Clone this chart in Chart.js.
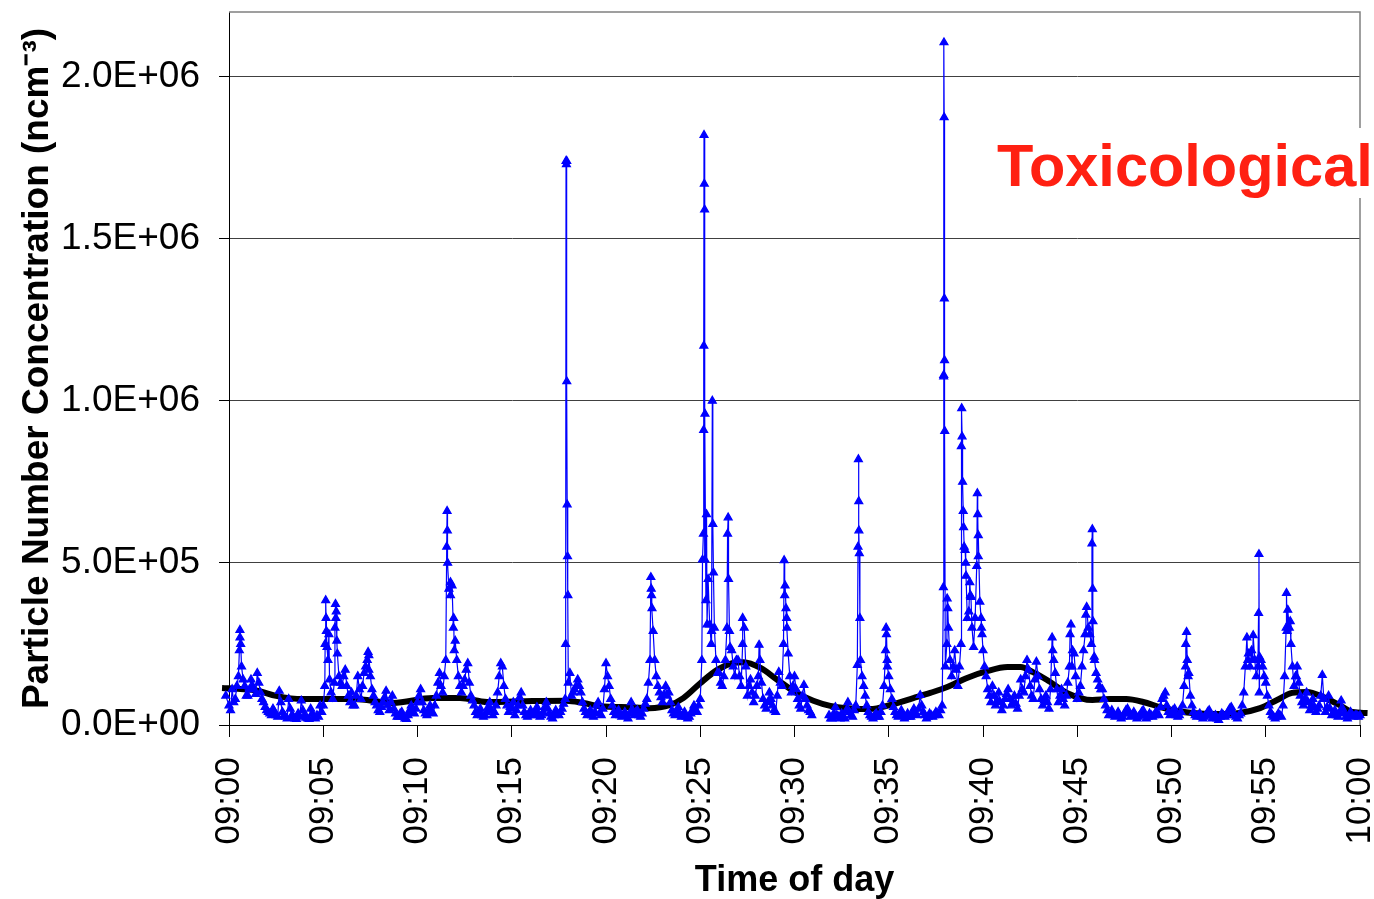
<!DOCTYPE html>
<html>
<head>
<meta charset="utf-8">
<script src="https://cdn.jsdelivr.net/npm/chart.js@4.4.0/dist/chart.umd.min.js"></script>
<style>
html, body { margin: 0; padding: 0; background: #fff; }
</style>
</head>
<body>
<canvas id="pnc" width="1374" height="899"></canvas>
<script>
// particle number concentration 09:00-10:00, values in thousands per cm3
// one reading every 5 s, one array per 5 minute block
let base0900 = [60,45,110,70,80,120,150,270,180,140, 120,90,90,110,140,120,110,95,160,130, 100,80,70,55,45,40,35,30,50,40, 30,25,105,70,40,30,25,20,80,50, 30,25,20,18,35,25,75,45,30,22, 20,18,50,35,25,20,30,25,60,40]
let base0905 = [60,120,290,200,140,100,80,130,330,220, 150,130,120,150,170,120,90,70,100,60, 60,90,150,110,80,120,160,180,200,170, 150,110,90,70,60,45,40,55,70,85, 105,60,45,70,90,50,35,25,25,35, 40,25,20,18,30,45,60,40,35,50]
let base0910 = [70,90,110,70,45,35,30,45,60,40, 35,60,90,130,160,120,100,150,200,600, 420,400,430,330,260,200,150,120,100,120, 140,170,190,130,90,75,60,40,30,40, 50,30,25,30,40,55,70,45,30,40, 60,100,150,190,180,120,80,60,40,55]
let base0915 = [50,70,30,45,60,85,100,60,40,30, 25,35,45,30,30,40,55,35,25,30, 40,55,70,50,35,25,20,30,45,35, 30,40,50,65,80,1740,130,160,90,100, 110,120,140,120,100,70,50,40,30,35, 45,30,25,40,60,70,35,30,50,110]
let base0920 = [190,150,120,80,60,40,30,35,45,30, 25,30,40,30,20,35,70,45,30,40, 45,30,25,35,50,65,80,130,200,400, 290,200,150,120,100,85,70,95,120,90, 100,70,45,35,30,40,55,35,25,30, 40,25,20,25,35,45,60,45,40,60]
let base0925 = [80,200,590,510,650,450,310,250,620,300, 200,160,160,130,120,150,200,300,450,240, 230,180,150,200,200,150,120,250,300,180, 90,120,140,100,70,90,120,150,200,130, 80,60,50,70,100,80,60,45,40,90, 163,130,120,250,430,330,220,150,100,120]
let base0930 = [150,110,80,60,50,90,123,80,60,45, 40,30,null,null,null,null,null,null,null,null, null,null,30,20,20,35,55,30,25,20, 35,25,20,45,70,40,30,25,45,60, 185,600,200,150,120,90,60,40,30,25, 20,30,35,25,25,40,60,120,230,200]
let base0935 = [150,110,80,55,40,30,25,35,45,30, 20,25,35,25,25,35,50,35,30,50, 92,60,40,30,20,25,35,30,25,30, 40,35,30,45,60,1080,180,250,300,200, 150,180,230,170,120,180,250,750,550,500, 330,350,400,300,240,330,490,520,380,300]
let base0940 = [230,180,150,110,90,70,120,90,60,75, 100,70,45,60,80,95,110,80,60,70, 90,65,50,90,140,110,100,150,200,170, 120,90,80,140,195,150,110,80,60,75, 90,70,50,110,270,200,160,110,70,90, 110,80,60,90,130,180,310,230,220,150]
let base0945 = [80,100,120,180,230,280,364,300,280,250, 320,200,160,140,120,110,110,80,60,45, 30,35,45,30,25,30,40,30,20,25, 35,45,50,35,25,30,40,30,20,25, 30,40,45,30,20,25,35,30,25,30, 40,35,30,55,80,90,100,60,40,30]
let base0950 = [35,45,50,30,25,30,40,60,120,180, 200,160,90,60,40,30,25,30,35,25, 20,25,30,40,45,30,20,25,30,20, 15,25,35,30,25,30,40,50,55,40, 30,25,20,30,35,60,100,180,270,220, 180,230,277,200,150,180,210,200,180,150]
let base0955 = [130,90,60,40,30,25,20,25,35,30, 25,60,150,300,355,300,250,180,120,150, 180,130,90,70,60,80,100,70,45,60, 80,55,40,50,60,90,154,80,40,55, 90,50,30,35,45,30,25,40,75,50, 35,25,20,30,40,30,25,30,30,25]

// short bursts between the 5 s readings: [minutes after 09:00, thousands]
let spikes = [
  [-0.33,50],[-0.17,90],[0.55,230],[0.58,293],[0.62,250],
  [5.1,250],[5.13,385],[5.15,330],[5.2,240],[5.3,280],[5.62,300],[5.65,373],[5.69,350],[5.72,260],[7.38,225],[7.42,215],
  [11.55,550],[11.57,660],[11.6,500],[11.75,440],[11.9,300],[11.95,230],
  [17.86,250],[17.88,1740],[17.9,1730],[17.92,1060],[17.94,680],[17.96,520],[17.98,400],
  [22.38,456],[22.4,420],[22.44,360],
  [25.12,510],[25.18,910],[25.19,1170],[25.2,1820],[25.215,1670],[25.23,1590],[25.25,960],[25.3,385],[25.36,310],
  [25.6,290],[25.64,1000],[25.7,470],[26.45,590],[26.48,640],[26.55,290],[27.25,330],[28.12,247],
  [29.45,508],[29.48,400],[29.55,360],[29.6,300],
  [33.37,550],[33.39,820],[33.41,690],[33.44,530],[33.47,330],[34.86,300],[34.88,280],[34.93,180],
  [37.9,425],[37.915,1075],[37.93,2106],[37.94,1875],[37.95,1316],[37.96,1125],[37.97,907],[38.1,390],[38.13,360],
  [38.85,860],[38.87,977],[38.89,890],[38.95,660],[38.97,610],[39.05,540],[39.1,460],[39.3,440],[39.36,395],
  [39.7,715],[39.72,650],[39.75,585],[39.9,330],[39.95,280],
  [43.7,230],[44.62,280],[44.72,180],
  [45.46,340],[45.78,560],[45.8,604],[45.82,420],[45.9,210],
  [50.76,250],[50.8,287],[50.88,150],[54.05,200],[54.3,200],[54.62,345],[54.64,527],[54.655,100],
  [56.1,407],[56.13,290],[56.3,320],[56.62,150],[60.0,30]
]

// smoothed trend (black line)
let trendMinutes = [-0.37,0.6,1.5,2.5,3.9,6.6,8.7,10.8,12.25,13.7,16.1,17.9,18.8,19.7,21.4,22.3,23.4,24.1,25.0,25.9,26.7,27.3,28.2,29.1,30.1,31.0,31.9,32.8,34.0,35.1,36.3,37.2,38.1,39.15,40.2,41.3,42.0,42.65,43.4,44.45,45.8,46.7,47.6,48.5,49.4,50.3,51.1,52.4,53.6,54.7,55.6,56.4,57.2,58.05,58.9,59.6,60.4]
let trendValues = [114,111,106,90,80,80,68,83,83,71,74,75,68,58,55,52,62,83,129,170,191,194,176,139,99,75,59,52,49,62,83,99,117,145,166,179,179,163,139,99,77,80,80,71,55,43,37,34,37,52,77,99,102,86,62,40,37]

let xTickMinutes = [0,5,10,15,20,25,30,35,40,45,50,55,60]
let xTickLabels = ['09:00','09:05','09:10','09:15','09:20','09:25','09:30','09:35','09:40','09:45','09:50','09:55','10:00']
let yTicks = [0, 5e5, 1e6, 1.5e6, 2e6]
let yTickLabels = ['0.0E+00','5.0E+05','1.0E+06','1.5E+06','2.0E+06']

let step = 5 / 60
let blocks = [base0900, base0905, base0910, base0915, base0920, base0925, base0930, base0935, base0940, base0945, base0950, base0955]

let bluePoints = []
blocks.forEach(function(vals, b){
  vals.forEach(function(v, i){
    bluePoints.push({x: b * 5 + i * step, y: v === null ? null : v * 1000})
  })
})
spikes.forEach(function(p){
  bluePoints.push({x: p[0], y: p[1] * 1000})
})
bluePoints.sort(function(a, b){ return a.x - b.x })

let trendPoints = trendMinutes.map(function(m, i){ return {x: m, y: trendValues[i] * 1000} })

let fam = '"Liberation Sans", Arial, sans-serif'

// plot box and the red label
let frame = {
  id: 'frame',
  beforeDatasetsDraw(chart){
    let ctx = chart.ctx, a = chart.chartArea
    ctx.save()
    ctx.strokeStyle = '#808080'
    ctx.lineWidth = 1.5
    ctx.beginPath()
    ctx.moveTo(a.left, a.top)
    ctx.lineTo(a.right, a.top)
    ctx.lineTo(a.right, a.bottom)
    ctx.stroke()
    ctx.restore()
  },
  afterDraw(chart){
    let ctx = chart.ctx
    ctx.save()
    ctx.fillStyle = '#fff'
    ctx.fillRect(992, 128, 382, 70)
    ctx.fillStyle = '#ff2012'
    ctx.font = 'bold 59.5px ' + fam
    ctx.textBaseline = 'alphabetic'
    ctx.fillText('Toxicological', 997, 186)
    ctx.restore()
  }
}

new Chart(document.getElementById('pnc'), {
  type: 'line',
  data: {
    datasets: [
      {
        label: 'PNC',
        data: bluePoints,
        borderColor: '#0000ff',
        backgroundColor: '#0000ff',
        borderWidth: 1.2,
        pointStyle: 'triangle',
        pointRadius: 4.5,
        pointBorderWidth: 1.3,
        pointHoverRadius: 4.5,
        tension: 0,
        spanGaps: false,
        clip: false,
        order: 0
      },
      {
        label: 'trend',
        data: trendPoints,
        borderColor: '#000',
        borderWidth: 6,
        pointRadius: 0,
        cubicInterpolationMode: 'monotone',
        clip: false,
        order: 1
      }
    ]
  },
  options: {
    responsive: false,
    animation: false,
    devicePixelRatio: 1,
    layout: { padding: { top: 12, right: 14, left: 0, bottom: 0 } },
    plugins: { legend: { display: false }, tooltip: { enabled: false } },
    scales: {
      x: {
        type: 'linear',
        min: 0,
        max: 60,
        afterBuildTicks: function(s){ s.ticks = xTickMinutes.map(function(v){ return {value: v} }) },
        afterFit: function(s){ s.height = 174; s.paddingLeft = 0; s.paddingRight = 0 },
        ticks: {
          autoSkip: false,
          minRotation: 90,
          maxRotation: 90,
          padding: 20,
          color: '#000',
          font: { family: fam, size: 35 },
          callback: function(v){ return xTickLabels[xTickMinutes.indexOf(v)] }
        },
        grid: { drawOnChartArea: false, drawTicks: true, tickLength: 12, color: '#000' },
        border: { color: '#000', width: 1 },
        title: {
          display: true,
          text: 'Time of day',
          color: '#000',
          font: { family: fam, size: 36, weight: 'bold', lineHeight: 1 },
          padding: { top: 0, bottom: 0 }
        }
      },
      y: {
        min: 0,
        max: 2.2e6,
        afterBuildTicks: function(s){ s.ticks = yTicks.map(function(v){ return {value: v} }) },
        afterFit: function(s){ s.width = 229; s.paddingTop = 0; s.paddingBottom = 0 },
        ticks: {
          padding: 19,
          color: '#000',
          font: { family: fam, size: 37 },
          callback: function(v){ return yTickLabels[yTicks.indexOf(v)] }
        },
        grid: { color: '#404040', lineWidth: 1, tickLength: 10, tickColor: '#000' },
        border: { color: '#000', width: 1 },
        title: {
          display: true,
          text: 'Particle Number Concentration (ncm\u207B\u00B3)',
          color: '#000',
          font: { family: fam, size: 37, weight: 'bold', lineHeight: 1 },
          padding: { top: 19, bottom: 0 }
        }
      }
    }
  },
  plugins: [frame]
})
</script>
</body>
</html>
